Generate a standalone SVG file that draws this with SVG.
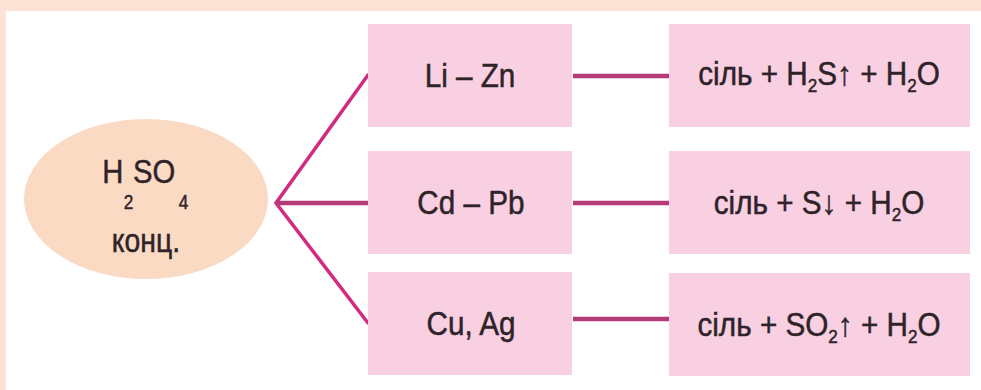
<svg xmlns="http://www.w3.org/2000/svg" width="981" height="390" viewBox="0 0 981 390">
<style>
.box{fill:#f9d0e2}
.t{font-family:"Liberation Sans",Arial,sans-serif;font-size:33px;fill:#2e2328;stroke:#2e2328;stroke-width:0.5;text-anchor:middle}
.sub{font-size:19px}
.diag{stroke:#d22a7e;stroke-width:3.5;fill:none;stroke-linecap:round}
.hor{stroke:#b53a78;stroke-width:4.5;fill:none}
</style>
<rect x="0" y="0" width="981" height="390" fill="#fde3d6"/>
<rect x="6" y="11" width="975" height="379" fill="#ffffff"/>
<g id="acid">
<ellipse cx="146" cy="199" rx="122" ry="80" fill="#fbdac4"/>
<g transform="matrix(0.86 0 0 1 146 0)">
<text class="t" style="text-anchor:start;font-size:34px"><tspan x="-51" y="183">H</tspan><tspan class="sub" x="-26" y="209" style="font-size:20px">2</tspan><tspan x="-15" y="183">SO</tspan><tspan x="38" y="209" style="font-size:20px">4</tspan></text>
<text class="t" x="0" y="252" style="font-size:33px">конц.</text>
</g>
</g>
<g id="connectors">
<path class="diag" d="M368 75 L276 203 L368 323"/>
<path class="hor" d="M276 203 H368"/>
<path class="hor" d="M573 76 H669"/>
<path class="hor" d="M573 203 H669"/>
<path class="hor" d="M573 319 H669"/>
</g>
<g id="m1"><rect class="box" x="368" y="24" width="204" height="103"/><text class="t" transform="matrix(0.9 0 0 1 470 87)">Li – Zn</text></g>
<g id="m2"><rect class="box" x="368" y="151" width="204" height="103"/><text class="t" transform="matrix(0.9 0 0 1 471 214)">Cd – Pb</text></g>
<g id="m3"><rect class="box" x="368" y="272" width="204" height="103"/><text class="t" transform="matrix(0.9 0 0 1 471 335)">Cu, Ag</text></g>
<g id="r1"><rect class="box" x="669" y="24" width="301" height="103"/><text class="t" transform="matrix(0.9 0 0 1 819 85)">сіль + H<tspan class="sub" dy="7">2</tspan><tspan dy="-7">S↑ + H</tspan><tspan class="sub" dy="7">2</tspan><tspan dy="-7">O</tspan></text></g>
<g id="r2"><rect class="box" x="669" y="151" width="301" height="103"/><text class="t" transform="matrix(0.9 0 0 1 819 214)">сіль + S↓ + H<tspan class="sub" dy="7">2</tspan><tspan dy="-7">O</tspan></text></g>
<g id="r3"><rect class="box" x="669" y="273" width="301" height="103"/><text class="t" transform="matrix(0.9 0 0 1 819 336)">сіль + SO<tspan class="sub" dy="7">2</tspan><tspan dy="-7">↑ + H</tspan><tspan class="sub" dy="7">2</tspan><tspan dy="-7">O</tspan></text></g>
</svg>
